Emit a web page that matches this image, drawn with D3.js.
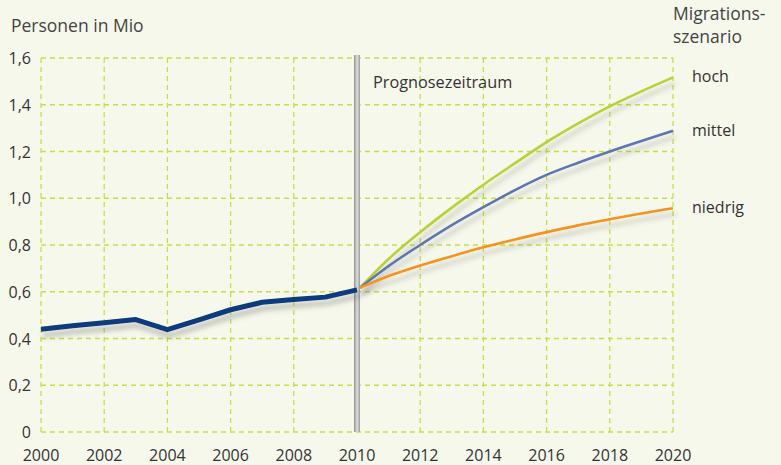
<!DOCTYPE html>
<html>
<head>
<meta charset="utf-8">
<script src="https://cdn.jsdelivr.net/npm/d3@7"></script>
<style>
  body { margin: 0; background: #f6f8eb; }
  svg { display: block; font-family: "Open Sans", sans-serif; }
</style>
</head>
<body>
<div id="chart"></div>
<script>
// data
const histYears = [2000, 2001, 2002, 2003, 2004, 2005, 2006, 2007, 2008, 2009, 2010];
const histValues = [0.44, 0.455, 0.467, 0.481, 0.438, 0.48, 0.523, 0.555, 0.567, 0.577, 0.608];

const progYears = [2010, 2011, 2012, 2013, 2014, 2015, 2016, 2017, 2018, 2019, 2020];
const hoch =    [0.617, 0.740, 0.855, 0.960, 1.058, 1.150, 1.240, 1.320, 1.393, 1.457, 1.517];
const mittel =  [0.617, 0.710, 0.800, 0.885, 0.962, 1.035, 1.100, 1.152, 1.200, 1.245, 1.289];
const niedrig = [0.617, 0.667, 0.712, 0.752, 0.790, 0.824, 0.855, 0.884, 0.910, 0.935, 0.957];

const scenarios = [
  { name: "hoch", values: hoch, color: "#b6d334" },
  { name: "mittel", values: mittel, color: "#5b76b3" },
  { name: "niedrig", values: niedrig, color: "#f7931e" }
];

const yTicks = [0, 0.2, 0.4, 0.6, 0.8, 1.0, 1.2, 1.4, 1.6];
const xTicks = [2000, 2002, 2004, 2006, 2008, 2010, 2012, 2014, 2016, 2018, 2020];

const W = 781, H = 465;
const svg = d3.select("#chart").append("svg")
  .attr("width", W).attr("height", H);

svg.append("rect").attr("width", W).attr("height", H).attr("fill", "#f6f8eb");

const defs = svg.append("defs");
const shadow = defs.append("filter").attr("id", "shadow")
  .attr("x", "-10%").attr("y", "-20%").attr("width", "120%").attr("height", "160%");
shadow.append("feDropShadow")
  .attr("dx", 2).attr("dy", 6).attr("stdDeviation", 2.5)
  .attr("flood-color", "#555").attr("flood-opacity", 0.33);

const barGrad = defs.append("linearGradient").attr("id", "bar");
barGrad.append("stop").attr("offset", "0%").attr("stop-color", "#8c8c8c");
barGrad.append("stop").attr("offset", "50%").attr("stop-color", "#e0e0e0");
barGrad.append("stop").attr("offset", "100%").attr("stop-color", "#9a9a9a");

const x = d3.scaleLinear().domain([2000, 2020]).range([41, 673]);
const y = d3.scaleLinear().domain([0, 1.6]).range([432, 58]);

const gridColor = "#c8dd48";

// grid
svg.append("g").selectAll("line")
  .data(yTicks).enter().append("line")
  .attr("x1", x(2000)).attr("x2", x(2020))
  .attr("y1", d => y(d)).attr("y2", d => y(d))
  .attr("stroke", gridColor).attr("stroke-width", 1.3)
  .attr("stroke-dasharray", "5,4");

svg.append("g").selectAll("line")
  .data(xTicks.filter(d => d !== 2010)).enter().append("line")
  .attr("x1", d => x(d)).attr("x2", d => x(d))
  .attr("y1", y(1.6)).attr("y2", y(0))
  .attr("stroke", gridColor).attr("stroke-width", 1.3)
  .attr("stroke-dasharray", "5,4");

// y labels
svg.append("g").selectAll("text")
  .data(yTicks).enter().append("text")
  .attr("x", 31).attr("y", d => y(d) + 6)
  .attr("text-anchor", "end")
  .attr("font-size", 16).attr("fill", "#333")
  .text(d => d === 0 ? "0" : d3.format(".1f")(d).replace(".", ","));

// x labels
svg.append("g").selectAll("text")
  .data(xTicks).enter().append("text")
  .attr("x", d => x(d)).attr("y", 461)
  .attr("text-anchor", "middle")
  .attr("font-size", 16).attr("fill", "#333")
  .text(d => d);

svg.append("text").attr("x", 11).attr("y", 32)
  .attr("font-size", 17.5).attr("fill", "#444")
  .text("Personen in Mio");

// forecast divider
svg.append("rect")
  .attr("x", x(2010) - 3).attr("y", y(1.6) - 3)
  .attr("width", 6).attr("height", y(0) - y(1.6) + 3)
  .attr("fill", "url(#bar)");

svg.append("text").attr("x", 373).attr("y", 88)
  .attr("font-size", 16.3).attr("fill", "#333")
  .text("Prognosezeitraum");

// lines
svg.append("path")
  .datum(histYears.map((yr, i) => [x(yr), y(histValues[i])]))
  .attr("d", d3.line())
  .attr("fill", "none").attr("stroke", "#073b7d")
  .attr("stroke-width", 5).attr("stroke-linejoin", "round")
  .attr("filter", "url(#shadow)");

const progLine = d3.line().curve(d3.curveMonotoneX);

svg.append("g").selectAll("path")
  .data(scenarios).enter().append("path")
  .attr("d", s => progLine(progYears.map((yr, i) => [x(yr) + (i === 0 ? 3 : 0), y(s.values[i])])))
  .attr("fill", "none").attr("stroke", s => s.color)
  .attr("stroke-width", 2.6)
  .attr("filter", "url(#shadow)");

// scenario labels
svg.append("g").selectAll("text")
  .data(scenarios).enter().append("text")
  .attr("x", 692).attr("y", s => y(s.values[s.values.length - 1]) + 5)
  .attr("font-size", 16).attr("fill", "#333")
  .text(s => s.name);

svg.append("text").attr("x", 673).attr("y", 20)
  .attr("font-size", 17.5).attr("fill", "#444")
  .text("Migrations-");
svg.append("text").attr("x", 673).attr("y", 43)
  .attr("font-size", 17.5).attr("fill", "#444")
  .text("szenario");
</script>
</body>
</html>
